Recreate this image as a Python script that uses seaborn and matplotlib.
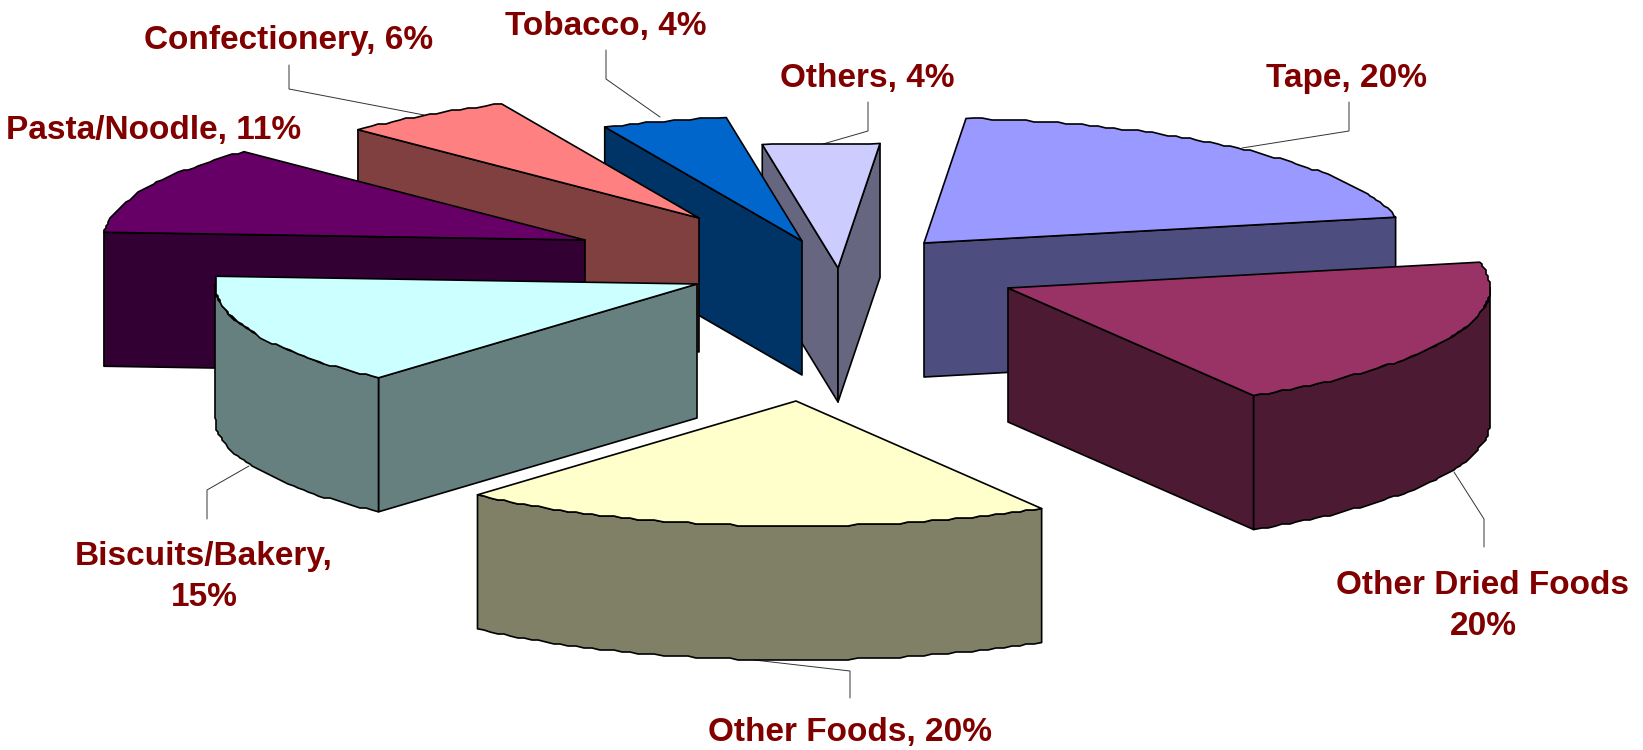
import numpy as np
import matplotlib
matplotlib.use("Agg")
import matplotlib.pyplot as plt
from matplotlib.patches import Polygon
import seaborn as sns

# ---- data (share of the pie, %)
categories = ["Tape", "Other Dried Foods", "Other Foods", "Biscuits/Bakery",
              "Pasta/Noodle", "Confectionery", "Tobacco", "Others"]
shares = [20.3, 19.8, 20.0, 14.5, 11.5, 5.8, 4.2, 3.9]
label_texts = ["Tape, 20%", "Other Dried Foods\n20%", "Other Foods, 20%",
               "Biscuits/Bakery,\n15%", "Pasta/Noodle, 11%", "Confectionery, 6%",
               "Tobacco, 4%", "Others, 4%"]

# ---- style and layout (pixels of the 1643x750 canvas)
top_colors = ["#9999FF", "#993366", "#FFFFCC", "#CCFFFF",
              "#660066", "#FF8080", "#0066CC", "#CCCCFF"]
START_DEG = 5.0
RX, RY, DEPTH = 482.0, 125.0, 134.0
CENTER = (800.0, 300.0)
explode_xy = [(124, -57), (208, -12), (-4, 101), (-103, -16),
              (-215, -60), (-101, -82), (2, -59), (38, -32)]
draw_order = [7, 6, 5, 4, 0, 1, 3, 2]
label_xy = [(1346, 79), (1483, 606), (850, 733), (204, 577),
            (154, 130), (289, 41), (606, 27), (867, 79)]
leaders = [[(1349, 102), (1349, 131), (1242, 148)],
           [(1484, 547), (1484, 519), (1454, 472)],
           [(850, 698), (850, 671), (754, 660)],
           [(207, 519), (207, 490), (249, 466)],
           None,
           [(289, 65), (289, 89), (424, 115)],
           [(606, 50), (606, 79), (660, 117)],
           [(868, 102), (868, 131), (823, 144)]]
LABEL_COLOR = "#800000"

sns.set_theme(style="white")
plt.rcParams["font.family"] = ["Liberation Sans", "DejaVu Sans"]
palette = sns.color_palette(top_colors)

fig = plt.figure(figsize=(16.43, 7.5), dpi=100, facecolor="white")
ax = fig.add_axes([0, 0, 1, 1])
ax.set_xlim(0, 1643)
ax.set_ylim(750, 0)
ax.axis("off")

EDGE = dict(edgecolor="black", linewidth=1.2, joinstyle="round")


def rim(apex, deg):
    a = np.radians(deg)
    return np.column_stack((apex[0] + RX * np.sin(a), apex[1] - RY * np.cos(a)))


def wobble(pts):
    # the reference's rim is a coarse, slightly stepped outline
    out = pts.copy()
    out[1:-1] = np.round(out[1:-1] / 2.0) * 2.0
    return out


def wall(a, b, color, z):
    pts = [a, b, (b[0], b[1] + DEPTH), (a[0], a[1] + DEPTH)]
    ax.add_patch(Polygon(pts, closed=True, facecolor=color, zorder=z, **EDGE))


edges = np.concatenate(([0.0], np.cumsum(shares))) * 3.6 + START_DEG
for z, i in enumerate(draw_order):
    top = np.array(palette[i])
    side = top * 0.5
    apex = np.array((CENTER[0] + explode_xy[i][0], CENTER[1] + explode_xy[i][1]))
    d0, d1 = edges[i], edges[i + 1]
    n = max(int(d1 - d0), 3)
    arc = wobble(rim(apex, np.linspace(d0, d1, n)))
    first, last = arc[0], arc[-1]

    # visible radial walls
    if first[0] < apex[0]:
        wall(apex, first, side, z)
    if last[0] > apex[0]:
        wall(last, apex, side, z)
    # visible outer wall
    f0, f1 = max(d0, 90.0), min(d1, 270.0)
    if f1 > f0:
        fr = wobble(rim(apex, np.linspace(f0, f1, max(int(f1 - f0), 3))))
        low = fr[::-1] + np.array((0, DEPTH))
        ax.add_patch(Polygon(np.vstack((fr, low)), closed=True, facecolor=side,
                             zorder=z, **EDGE))
    # top face
    ax.add_patch(Polygon(np.vstack((apex, arc)), closed=True, facecolor=top,
                         zorder=z + 0.5, **EDGE))

for xy, txt, lead in zip(label_xy, label_texts, leaders):
    ax.text(xy[0], xy[1], txt, ha="center", va="center", color=LABEL_COLOR,
            fontsize=24, fontweight="bold", linespacing=1.45, zorder=50)
    if lead is not None:
        xs, ys = zip(*lead)
        ax.plot(xs, ys, color="#333333", lw=0.7, zorder=-1)

fig.savefig("out.png", dpi=100, facecolor="white")
